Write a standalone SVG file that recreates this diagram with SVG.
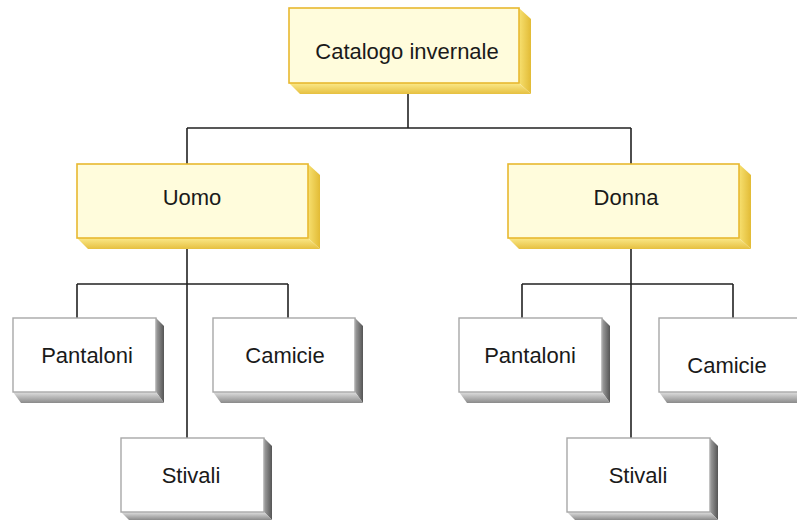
<svg xmlns="http://www.w3.org/2000/svg" width="797" height="520" viewBox="0 0 797 520">
  <style>
    .conn { stroke: #222; stroke-width: 1.6; fill: none; }
    .yfront { fill: #fffcdc; stroke: #e8b830; stroke-width: 1.6; }
    .yright { fill: url(#yR); }
    .ybottom { fill: url(#yB); }
    .gfront { fill: #ffffff; stroke: #a8a8a8; stroke-width: 1.4; }
    .gright { fill: url(#gR); }
    .gbottom { fill: url(#gB); }
    text { font-family: "Liberation Sans", Arial, sans-serif; font-size: 22px; fill: #1a1a1a; text-anchor: middle; }
  </style>
  <defs>
    <linearGradient id="yR" x1="0" y1="0" x2="1" y2="0">
      <stop offset="0" stop-color="#f7e070"/>
      <stop offset="1" stop-color="#e2bb35"/>
    </linearGradient>
    <linearGradient id="yB" x1="0" y1="0" x2="0" y2="1">
      <stop offset="0" stop-color="#fbe98a"/>
      <stop offset="1" stop-color="#e6c040"/>
    </linearGradient>
    <linearGradient id="gR" x1="0" y1="0" x2="1" y2="0">
      <stop offset="0" stop-color="#a0a0a0"/>
      <stop offset="1" stop-color="#555555"/>
    </linearGradient>
    <linearGradient id="gB" x1="0" y1="0" x2="0" y2="1">
      <stop offset="0" stop-color="#e0e0e0"/>
      <stop offset="1" stop-color="#8a8a8a"/>
    </linearGradient>
  </defs>

  <g id="connectors">
    <path class="conn" d="M408 83 V128 M187 128 H631 M187 128 V164 M631 128 V164"/>
    <path class="conn" d="M187 238 V438 M77 284 H288 M77 284 V318 M288 284 V318"/>
    <path class="conn" d="M631 238 V438 M522 284 H733 M522 284 V318 M733 284 V318"/>
  </g>

  <g id="catalogo">
    <polygon class="yright" points="519,8 531,19 531,94 519,83"/>
    <polygon class="ybottom" points="289,83 519,83 531,94 300,94"/>
    <rect class="yfront" x="289" y="8" width="230" height="75"/>
    <text x="407" y="59">Catalogo invernale</text>
  </g>

  <g id="uomo">
    <polygon class="yright" points="308,164 320,175 320,249 308,238"/>
    <polygon class="ybottom" points="77,238 308,238 320,249 88,249"/>
    <rect class="yfront" x="77" y="164" width="231" height="74"/>
    <text x="192" y="205">Uomo</text>
  </g>

  <g id="donna">
    <polygon class="yright" points="739,164 751,175 751,249 739,238"/>
    <polygon class="ybottom" points="508,238 739,238 751,249 519,249"/>
    <rect class="yfront" x="508" y="164" width="231" height="74"/>
    <text x="626" y="205">Donna</text>
  </g>

  <g id="uomo-pantaloni">
    <polygon class="gright" points="156,318 164,326 164,403 156,392"/>
    <polygon class="gbottom" points="13,392 156,392 164,403 21,403"/>
    <rect class="gfront" x="13" y="318" width="143" height="74"/>
    <text x="87" y="363">Pantaloni</text>
  </g>

  <g id="uomo-camicie">
    <polygon class="gright" points="355,318 363,326 363,403 355,392"/>
    <polygon class="gbottom" points="213,392 355,392 363,403 221,403"/>
    <rect class="gfront" x="213" y="318" width="142" height="74"/>
    <text x="285" y="363">Camicie</text>
  </g>

  <g id="uomo-stivali">
    <polygon class="gright" points="264,438 272,446 272,520 264,512"/>
    <polygon class="gbottom" points="121,512 264,512 272,520 129,520"/>
    <rect class="gfront" x="121" y="438" width="143" height="74"/>
    <text x="191" y="483">Stivali</text>
  </g>

  <g id="donna-pantaloni">
    <polygon class="gright" points="602,318 610,326 610,403 602,392"/>
    <polygon class="gbottom" points="459,392 602,392 610,403 467,403"/>
    <rect class="gfront" x="459" y="318" width="143" height="74"/>
    <text x="530" y="363">Pantaloni</text>
  </g>

  <g id="donna-camicie">
    <polygon class="gright" points="802,318 810,326 810,403 802,392"/>
    <polygon class="gbottom" points="659,392 802,392 810,403 667,403"/>
    <rect class="gfront" x="659" y="318" width="143" height="74"/>
    <text x="727" y="373">Camicie</text>
  </g>

  <g id="donna-stivali">
    <polygon class="gright" points="710,438 718,446 718,520 710,512"/>
    <polygon class="gbottom" points="567,512 710,512 718,520 575,520"/>
    <rect class="gfront" x="567" y="438" width="143" height="74"/>
    <text x="638" y="483">Stivali</text>
  </g>
</svg>
